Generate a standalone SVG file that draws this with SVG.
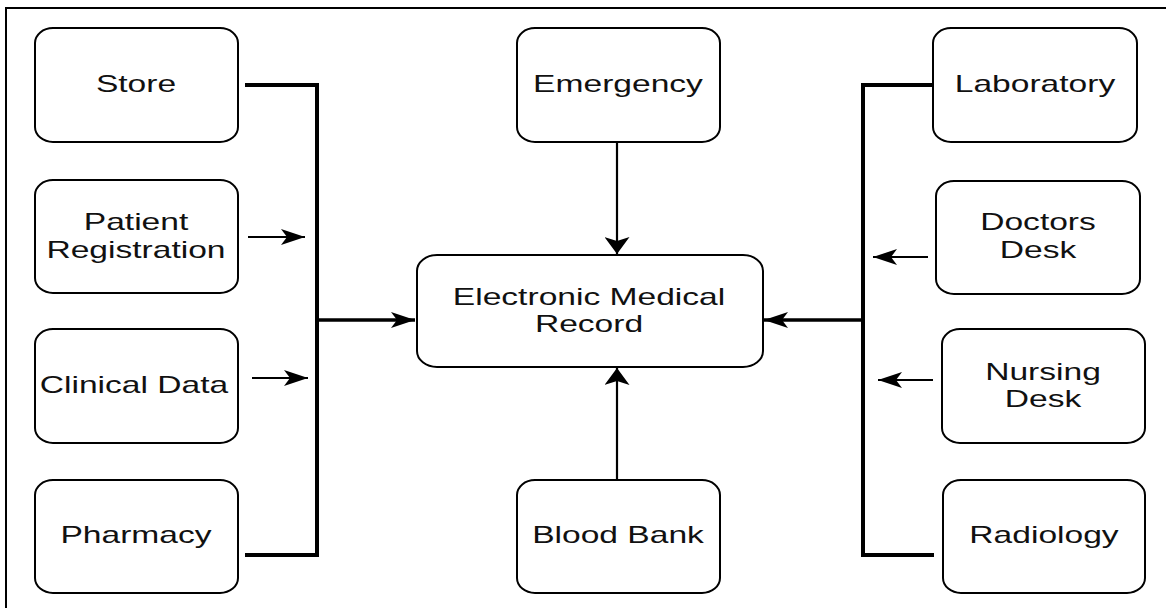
<svg xmlns="http://www.w3.org/2000/svg" width="1166" height="608" viewBox="0 0 1166 608">
<style>
.box{fill:#fff;stroke:#000;stroke-width:2}
.t{font-family:"Liberation Sans",Arial,sans-serif;font-size:23px;fill:#111;text-anchor:middle}
.thick{fill:none;stroke:#000;stroke-width:4;stroke-linejoin:miter;stroke-linecap:butt}
.mid{fill:none;stroke:#000;stroke-width:3.5}
.thin{fill:none;stroke:#000;stroke-width:2.2}
</style>
<defs>
<marker id="ah" viewBox="0 0 24 16" markerWidth="24" markerHeight="16" refX="24" refY="8" orient="auto" markerUnits="userSpaceOnUse">
<path d="M0,0 L24,8 L0,16 L6,8 z" fill="#000"/>
</marker>
<marker id="av" viewBox="0 0 17 25" markerWidth="17" markerHeight="25" refX="17" refY="12.5" orient="auto" markerUnits="userSpaceOnUse">
<path d="M0,0 L17,12.5 L0,25 L4,12.5 z" fill="#000"/>
</marker>
</defs>
<rect x="0" y="0" width="1166" height="608" fill="#fff"/>
<rect x="6" y="8" width="1180" height="620" fill="none" stroke="#000" stroke-width="2"/>

<g id="connectors">
<path class="thick" d="M245,85 H317 V555 H245"/>
<path class="mid" d="M317,320 H415" marker-end="url(#ah)"/>
<path class="thin" d="M248,237 H305" marker-end="url(#ah)"/>
<path class="thin" d="M252,378 H308" marker-end="url(#ah)"/>
<path class="thick" d="M933,85 H863 V555 H934"/>
<path class="mid" d="M863,320 H764" marker-end="url(#ah)"/>
<path class="thin" d="M928,257 H873" marker-end="url(#ah)"/>
<path class="thin" d="M933,380 H878" marker-end="url(#ah)"/>
<path class="thin" d="M617,142 V254" marker-end="url(#av)"/>
<path class="thin" d="M617,480 V368" marker-end="url(#av)"/>
</g>

<g id="store"><rect class="box" x="35" y="28" width="203" height="114" rx="18" ry="15"/>
<text class="t" transform="translate(136,92) scale(1.46,1)">Store</text></g>
<g id="patient-registration"><rect class="box" x="35" y="180" width="203" height="113" rx="18" ry="15"/>
<text class="t" transform="translate(136,230) scale(1.46,1)">Patient</text>
<text class="t" transform="translate(136,258) scale(1.46,1)">Registration</text></g>
<g id="clinical-data"><rect class="box" x="35" y="329" width="203" height="114" rx="18" ry="15"/>
<text class="t" transform="translate(134,393) scale(1.46,1)">Clinical Data</text></g>
<g id="pharmacy"><rect class="box" x="35" y="480" width="203" height="113" rx="18" ry="15"/>
<text class="t" transform="translate(136,543) scale(1.46,1)">Pharmacy</text></g>

<g id="emergency"><rect class="box" x="517" y="28" width="203" height="114" rx="18" ry="15"/>
<text class="t" transform="translate(618,92) scale(1.46,1)">Emergency</text></g>
<g id="emr"><rect class="box" x="417" y="255" width="346" height="112" rx="20" ry="16"/>
<text class="t" transform="translate(589,305) scale(1.46,1)">Electronic Medical</text>
<text class="t" transform="translate(589,332) scale(1.46,1)">Record</text></g>
<g id="blood-bank"><rect class="box" x="517" y="480" width="203" height="113" rx="18" ry="15"/>
<text class="t" transform="translate(618,543) scale(1.46,1)">Blood Bank</text></g>

<g id="laboratory"><rect class="box" x="933" y="28" width="204" height="114" rx="18" ry="15"/>
<text class="t" transform="translate(1035,92) scale(1.46,1)">Laboratory</text></g>
<g id="doctors-desk"><rect class="box" x="936" y="181" width="204" height="113" rx="18" ry="15"/>
<text class="t" transform="translate(1038,230) scale(1.46,1)">Doctors</text>
<text class="t" transform="translate(1038,258) scale(1.46,1)">Desk</text></g>
<g id="nursing-desk"><rect class="box" x="942" y="329" width="203" height="114" rx="18" ry="15"/>
<text class="t" transform="translate(1043,380) scale(1.46,1)">Nursing</text>
<text class="t" transform="translate(1043,407) scale(1.46,1)">Desk</text></g>
<g id="radiology"><rect class="box" x="943" y="480" width="202" height="113" rx="18" ry="15"/>
<text class="t" transform="translate(1044,543) scale(1.46,1)">Radiology</text></g>
</svg>
